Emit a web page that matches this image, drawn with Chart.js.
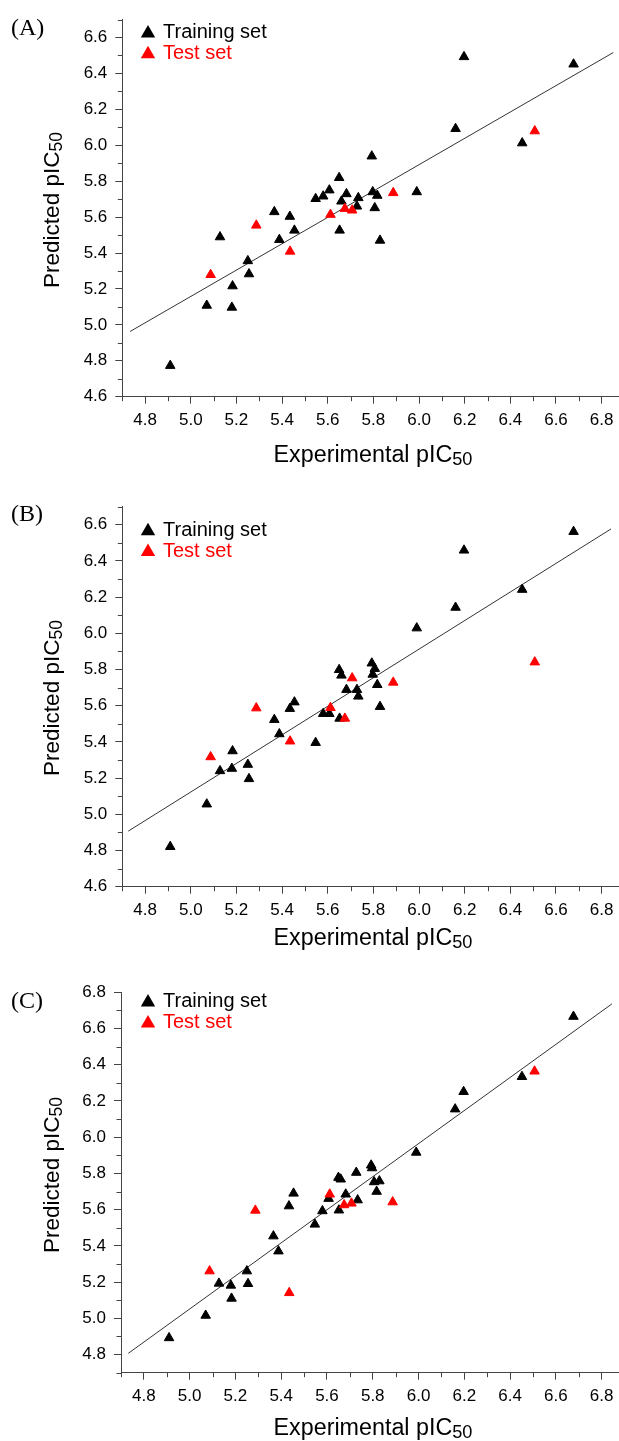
<!DOCTYPE html>
<html><head><meta charset="utf-8">
<script src="https://cdn.jsdelivr.net/npm/chart.js@4.4.0/dist/chart.umd.min.js"></script>
<style>
html,body{margin:0;padding:0;background:#fff;}
#wrap{position:relative;width:619px;height:1441px;overflow:hidden;}
canvas{position:absolute;left:0;display:block;}
</style></head><body>
<div id="wrap">
<canvas id="cA" width="619" height="480" style="top:0"></canvas>
<canvas id="cB" width="619" height="480" style="top:480px"></canvas>
<canvas id="cC" width="619" height="481" style="top:960px"></canvas>
</div>
<script>
// ---- data ----
const trainExp = [4.91, 5.07, 5.128, 5.18, 5.183, 5.25, 5.255, 5.366, 5.388, 5.434, 5.454, 5.547, 5.58, 5.607, 5.65, 5.652, 5.66, 5.682, 5.728, 5.734, 5.793, 5.797, 5.806, 5.817, 5.829, 5.99, 6.16, 6.197, 6.452, 6.677];
const testExp = [5.087, 5.287, 5.435, 5.612, 5.675, 5.707, 5.887, 6.507];

const trainPredA = [4.773, 5.108, 5.489, 5.097, 5.216, 5.356, 5.283, 5.629, 5.474, 5.603, 5.526, 5.702, 5.716, 5.75, 5.819, 5.526, 5.688, 5.729, 5.66, 5.707, 5.939, 5.74, 5.651, 5.72, 5.47, 5.74, 6.092, 6.492, 6.012, 6.451];
const testPredA = [5.279, 5.554, 5.409, 5.614, 5.647, 5.638, 5.735, 6.079];
const trainPredB = [4.821, 5.056, 5.24, 5.253, 5.35, 5.275, 5.196, 5.523, 5.444, 5.584, 5.62, 5.396, 5.556, 5.556, 5.799, 5.53, 5.768, 5.689, 5.689, 5.652, 5.835, 5.773, 5.805, 5.716, 5.595, 6.029, 6.143, 6.459, 6.242, 6.562];
const testPredB = [5.317, 5.587, 5.404, 5.589, 5.53, 5.753, 5.729, 5.841];
const trainPredC = [4.892, 5.016, 5.193, 5.182, 5.11, 5.261, 5.191, 5.454, 5.371, 5.62, 5.69, 5.519, 5.593, 5.661, 5.777, 5.597, 5.768, 5.685, 5.805, 5.653, 5.845, 5.83, 5.753, 5.7, 5.758, 5.916, 6.155, 6.251, 6.334, 6.666];
const testPredC = [5.261, 5.596, 5.141, 5.685, 5.626, 5.635, 5.642, 6.364];

const fitXA = [4.734, 6.851], fitYA = [4.963, 6.516];
const fitXB = [4.726, 6.841], fitYB = [4.907, 6.577];
const fitXC = [4.732, 6.845], fitYC = [4.807, 6.736];

const xMajor = [4.8, 5.0, 5.2, 5.4, 5.6, 5.8, 6.0, 6.2, 6.4, 6.6, 6.8];
const xMinor = [4.7, 4.9, 5.1, 5.3, 5.5, 5.7, 5.9, 6.1, 6.3, 6.5, 6.7];
const yMajorAB = [4.6, 4.8, 5.0, 5.2, 5.4, 5.6, 5.8, 6.0, 6.2, 6.4, 6.6];
const yMinorAB = [4.7, 4.9, 5.1, 5.3, 5.5, 5.7, 5.9, 6.1, 6.3, 6.5, 6.7];
const yMajorC = [4.8, 5.0, 5.2, 5.4, 5.6, 5.8, 6.0, 6.2, 6.4, 6.6, 6.8];
const yMinorC = [4.7, 4.9, 5.1, 5.3, 5.5, 5.7, 5.9, 6.1, 6.3, 6.5, 6.7];

const panelLabels = ['(A)', '(B)', '(C)'];
const legendLabels = ['Training set', 'Test set'];
const xTitle = ['Experimental pIC', '50'];
const yTitle = ['Predicted pIC', '50'];

// ---- helpers ----
const SANS = '"Liberation Sans", Arial, sans-serif';
const SERIF = '"Liberation Serif", "Times New Roman", serif';
const zip = (xs, ys) => xs.map((x, i) => ({x: x, y: ys[i]}));

function drawTri(ctx, cx, cy, r, color) {
  ctx.beginPath();
  ctx.moveTo(cx, cy - r);
  ctx.lineTo(cx + r * Math.sin(2 * Math.PI / 3), cy - r * Math.cos(2 * Math.PI / 3));
  ctx.lineTo(cx + r * Math.sin(4 * Math.PI / 3), cy - r * Math.cos(4 * Math.PI / 3));
  ctx.closePath();
  ctx.fillStyle = color;
  ctx.fill();
}

function drawSub(ctx, parts, size, subScale, subDrop) {
  ctx.font = size + 'px ' + SANS;
  const w1 = ctx.measureText(parts[0]).width;
  ctx.font = (size * subScale) + 'px ' + SANS;
  const w2 = ctx.measureText(parts[1]).width;
  const start = -(w1 + w2) / 2;
  ctx.textAlign = 'left';
  ctx.textBaseline = 'alphabetic';
  ctx.font = size + 'px ' + SANS;
  ctx.fillText(parts[0], start, 0);
  ctx.font = (size * subScale) + 'px ' + SANS;
  ctx.fillText(parts[1], start + w1, subDrop);
}

const deco = {
  id: 'deco',
  afterDraw(chart, args, o) {
    const ctx = chart.ctx, ca = chart.chartArea;
    const xs = chart.scales.x, ys = chart.scales.y;
    ctx.save();
    ctx.strokeStyle = '#444';
    ctx.lineWidth = 1;
    ctx.beginPath();
    for (const v of o.xMinor) {
      const px = Math.round(xs.getPixelForValue(v)) + 0.5;
      ctx.moveTo(px, ca.bottom); ctx.lineTo(px, ca.bottom + 4.5);
    }
    for (const v of o.yMinor) {
      const py = Math.round(ys.getPixelForValue(v)) + 0.5;
      ctx.moveTo(ca.left, py); ctx.lineTo(ca.left - 4.5, py);
    }
    ctx.stroke();
    ctx.fillStyle = '#000';
    ctx.font = '24px ' + SERIF;
    ctx.textAlign = 'left';
    ctx.textBaseline = 'alphabetic';
    ctx.fillText(o.label, 11, o.labelY);
    const cols = ['#000000', '#ff0000'];
    for (let i = 0; i < 2; i++) {
      drawTri(ctx, 148, o.legTri[i] + 8.3, 8.3, cols[i]);
      ctx.fillStyle = cols[i];
      ctx.font = '20px ' + SANS;
      ctx.textAlign = 'left';
      ctx.textBaseline = 'alphabetic';
      ctx.fillText(legendLabels[i], 163, o.legBase[i]);
    }
    ctx.fillStyle = '#000';
    ctx.save();
    ctx.translate(o.xTitleX, o.xTitleBase);
    drawSub(ctx, xTitle, 23.3, 0.78, 2.5);
    ctx.restore();
    ctx.save();
    ctx.translate(o.yTitleBase, o.yTitleY);
    ctx.rotate(-Math.PI / 2);
    drawSub(ctx, yTitle, 22.5, 0.78, 2.5);
    ctx.restore();
    ctx.restore();
  }
};

function makeChart(id, c) {
  const tickFont = {family: SANS, size: 17};
  return new Chart(document.getElementById(id), {
    type: 'scatter',
    data: {
      datasets: [
        {label: 'Test set', data: zip(testExp, c.testPred), pointStyle: 'triangle', pointRadius: 5.5, pointHoverRadius: 5.5,
         backgroundColor: '#ff0000', borderColor: '#ff0000', borderWidth: 1, order: 1, clip: false},
        {label: 'Training set', data: zip(trainExp, c.trainPred), pointStyle: 'triangle', pointRadius: 5.5, pointHoverRadius: 5.5,
         backgroundColor: '#000000', borderColor: '#000000', borderWidth: 1, order: 2, clip: false},
        {label: 'fit', data: zip(c.fitX, c.fitY), showLine: true, pointRadius: 0, borderColor: '#333', borderWidth: 1, fill: false, order: 3, clip: false}
      ]
    },
    options: {
      responsive: false,
      animation: false,
      events: [],
      layout: {autoPadding: false, padding: {top: c.top, right: 0, left: 0, bottom: 0}},
      plugins: {
        legend: {display: false},
        tooltip: {enabled: false},
        deco: c.deco
      },
      scales: {
        x: {
          type: 'linear', min: 4.7, max: 6.876,
          afterFit: s => { s.height = c.xAxisH; s.paddingLeft = 0; s.paddingRight = 0; },
          afterBuildTicks: s => { s.ticks = xMajor.map(v => ({value: v})); },
          ticks: {font: tickFont, color: '#000', padding: 6, maxRotation: 0, autoSkip: false,
                  callback: v => Number(v).toFixed(1)},
          grid: {drawOnChartArea: false, drawTicks: true, tickLength: 7, color: '#444'},
          border: {display: true, color: '#444', width: 1}
        },
        y: {
          type: 'linear', min: c.yMin, max: c.yMax,
          afterFit: s => { s.width = c.left; s.paddingTop = 0; s.paddingBottom = 0; },
          afterBuildTicks: s => { s.ticks = c.yMajor.map(v => ({value: v})); },
          ticks: {font: tickFont, color: '#000', padding: 8, autoSkip: false,
                  callback: v => Number(v).toFixed(1)},
          grid: {drawOnChartArea: false, drawTicks: true, tickLength: 7, color: '#444'},
          border: {display: true, color: '#444', width: 1}
        }
      }
    },
    plugins: [deco]
  });
}

makeChart('cA', {
  trainPred: trainPredA, testPred: testPredA, fitX: fitXA, fitY: fitYA,
  yMin: 4.6, yMax: 6.7, yMajor: yMajorAB, top: 19.5, left: 122.3, xAxisH: 480 - 396.7,
  deco: {xMinor: xMinor, yMinor: yMinorAB, label: panelLabels[0], labelY: 34.5,
         legTri: [25, 45.7], legBase: [37.7, 59], xTitleX: 373, xTitleBase: 462, yTitleBase: 59, yTitleY: 210}
});
makeChart('cB', {
  trainPred: trainPredB, testPred: testPredB, fitX: fitXB, fitY: fitYB,
  yMin: 4.6, yMax: 6.7, yMajor: yMajorAB, top: 26.7, left: 122.3, xAxisH: 480 - 406.7,
  deco: {xMinor: xMinor, yMinor: yMinorAB, label: panelLabels[1], labelY: 41,
         legTri: [42.7, 63.5], legBase: [55.7, 77.3], xTitleX: 373, xTitleBase: 465, yTitleBase: 59, yTitleY: 218}
});
makeChart('cC', {
  trainPred: trainPredC, testPred: testPredC, fitX: fitXC, fitY: fitYC,
  yMin: 4.7, yMax: 6.8, yMajor: yMajorC, top: 32.3, left: 121, xAxisH: 481 - 412.7,
  deco: {xMinor: xMinor, yMinor: yMinorC, label: panelLabels[2], labelY: 47.5,
         legTri: [34, 55], legBase: [47.3, 68.3], xTitleX: 373, xTitleBase: 475, yTitleBase: 59, yTitleY: 215}
});
</script>
</body></html>
